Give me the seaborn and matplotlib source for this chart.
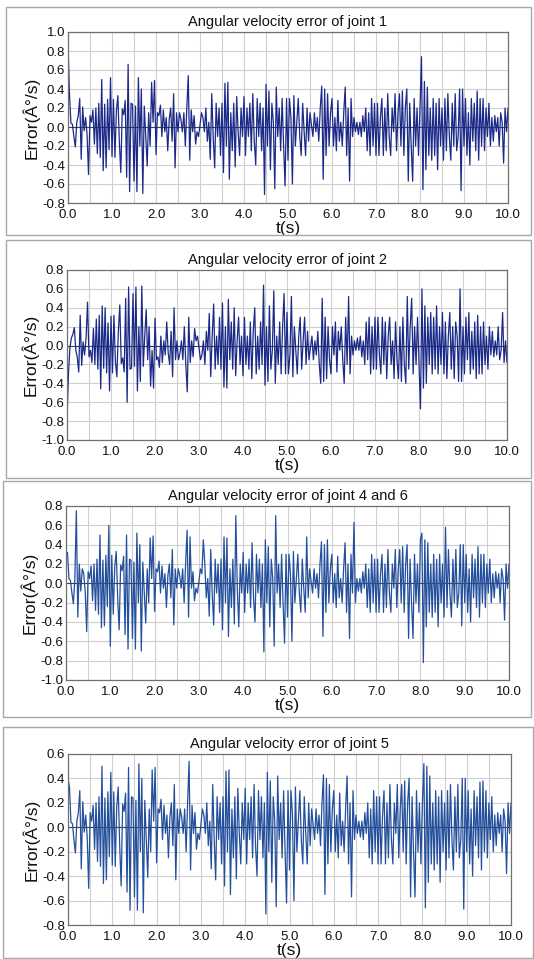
import numpy as np
import matplotlib
matplotlib.use("Agg")
import matplotlib.pyplot as plt
import seaborn as sns
from matplotlib.ticker import MultipleLocator, FormatStrFormatter


TITLES = [
    "Angular velocity error of joint 1",
    "Angular velocity error of joint 2",
    "Angular velocity error of joint 4 and 6",
    "Angular velocity error of joint 5",
]
Y_LABEL = "Error(Â°/s)"
X_LABEL = "t(s)"
Y_LIMITS = [(-0.8, 1.0), (-1.0, 0.8), (-1.0, 0.8), (-0.8, 0.6)]

# error samples, one value every 1/30 s from 0 to 10 s
joint1 = [
    0.88, 0.35, 0.04, 0.03, -0.10, -0.21, 0.05, 0.12, 0.30, -0.34,
    0.21, -0.04, 0.10, -0.08, -0.50, 0.12, 0.05, 0.18, -0.18, 0.20,
    -0.28, 0.25, -0.32, 0.50, -0.46, 0.24, -0.43, 0.29, -0.24, 0.52,
    -0.31, 0.29, -0.32, 0.17, 0.33, -0.15, -0.48, 0.19, 0.13, 0.28,
    -0.53, 0.66, -0.68, 0.25, 0.24, -0.57, 0.22, -0.68, 0.52, -0.20,
    0.40, -0.70, 0.22, -0.10, -0.41, 0.15, -0.20, 0.47, 0.05, 0.49,
    -0.29, 0.15, 0.12, 0.23, -0.10, 0.18, -0.05, 0.10, -0.25, 0.08,
    0.20, -0.15, 0.35, -0.43, 0.15, -0.05, 0.15, 0.08, -0.05, 0.15,
    -0.20, 0.20, 0.54, -0.35, 0.18, -0.05, 0.12, -0.18, -0.05, -0.10,
    0.02, 0.15, 0.10, -0.05, 0.20, -0.15, 0.05, -0.34, 0.35, -0.10,
    -0.43, 0.25, -0.10, 0.20, -0.30, 0.25, -0.48, 0.46, -0.20, 0.47,
    -0.55, 0.15, -0.25, 0.25, -0.42, 0.32, -0.05, -0.30, 0.20, -0.10,
    0.32, -0.30, 0.20, -0.10, 0.25, -0.25, 0.35, -0.15, -0.40, 0.30,
    -0.10, 0.25, -0.25, 0.20, -0.71, 0.45, -0.20, 0.38, -0.45, 0.25,
    0.05, -0.65, 0.42, -0.10, 0.20, -0.25, 0.30, -0.20, -0.62, 0.30,
    -0.35, 0.30, 0.10, -0.60, 0.33, -0.20, 0.05, 0.30, -0.10, -0.30,
    0.25, -0.05, -0.30, 0.20, -0.15, 0.15, 0.02, -0.10, 0.15, -0.05,
    0.10, -0.15, 0.20, 0.43, -0.55, 0.40, -0.30, 0.35, -0.20, 0.15,
    0.30, -0.20, 0.10, -0.25, 0.28, -0.15, 0.05, -0.20, 0.15, 0.42,
    -0.30, 0.20, -0.57, 0.30, -0.10, 0.10, -0.05, 0.05, -0.08, 0.05,
    -0.10, 0.12, -0.05, 0.20, -0.25, 0.15, -0.30, 0.30, -0.20, 0.25,
    -0.30, 0.25, -0.30, 0.10, 0.30, -0.30, 0.20, -0.25, 0.35, -0.10,
    -0.30, 0.20, -0.05, 0.35, -0.25, 0.15, 0.35, -0.20, 0.38, -0.30,
    0.20, 0.40, -0.57, 0.25, -0.20, -0.57, 0.30, -0.20, 0.20, -0.30,
    0.20, 0.74, -0.66, 0.48, -0.45, 0.42, -0.30, 0.20, -0.35, 0.30,
    -0.30, 0.25, -0.45, 0.30, -0.20, 0.20, -0.35, 0.30, -0.25, 0.35,
    -0.10, -0.35, 0.25, -0.20, 0.35, -0.25, -0.10, 0.40, -0.67, 0.40,
    -0.20, 0.30, -0.30, 0.15, -0.40, 0.30, -0.15, 0.25, -0.25, 0.38,
    -0.35, 0.30, -0.20, 0.30, -0.25, 0.20, -0.10, 0.25, -0.20, 0.10,
    -0.15, 0.12, -0.05, 0.10, -0.20, 0.15, 0.05, -0.38, 0.20, -0.05, 0.20,
]

joint2 = [
    -0.78, -0.30, -0.02, 0.08, 0.12, 0.19, -0.05, -0.12, -0.28, 0.32,
    -0.21, 0.04, -0.10, 0.08, 0.46, -0.12, -0.05, -0.18, 0.18, -0.20,
    0.28, -0.25, 0.32, -0.46, 0.42, -0.24, 0.40, -0.29, 0.24, -0.48,
    0.31, -0.29, 0.32, -0.17, -0.33, 0.15, 0.43, -0.19, -0.13, -0.28,
    0.50, -0.60, 0.62, -0.25, -0.24, 0.55, -0.22, 0.62, -0.48, 0.20,
    -0.38, 0.63, -0.22, 0.10, 0.38, -0.15, 0.20, -0.43, -0.05, -0.45,
    0.29, -0.15, -0.12, -0.23, 0.10, -0.18, 0.05, -0.10, 0.25, -0.08,
    -0.20, 0.15, -0.33, 0.40, -0.15, 0.05, -0.15, -0.08, 0.05, -0.15,
    0.20, -0.20, -0.49, 0.30, -0.18, 0.05, -0.12, 0.18, 0.05, 0.10,
    -0.02, -0.15, -0.10, 0.05, -0.20, 0.15, -0.05, 0.34, -0.33, 0.10,
    0.44, -0.25, 0.10, -0.20, 0.30, -0.25, 0.45, -0.44, 0.20, -0.45,
    0.49, -0.15, 0.25, -0.25, 0.40, -0.32, 0.05, 0.30, -0.20, 0.10,
    -0.32, 0.30, -0.20, 0.10, -0.25, 0.25, -0.35, 0.15, 0.40, -0.30,
    0.10, -0.25, 0.25, -0.20, 0.64, -0.42, 0.20, -0.38, 0.42, -0.25,
    -0.05, 0.58, -0.40, 0.10, -0.20, 0.25, -0.30, 0.20, 0.55, -0.30,
    0.35, -0.30, -0.10, 0.52, -0.33, 0.20, -0.05, -0.30, 0.10, 0.30,
    -0.25, 0.05, 0.30, -0.20, 0.15, -0.15, -0.02, 0.10, -0.15, 0.05,
    -0.10, 0.15, -0.20, -0.40, 0.50, -0.38, 0.30, -0.35, 0.20, -0.15,
    -0.30, 0.20, -0.10, 0.25, -0.28, 0.15, -0.05, 0.20, -0.15, -0.40,
    0.30, -0.20, 0.52, -0.30, 0.10, -0.10, 0.05, -0.05, 0.08, -0.05,
    0.10, -0.12, 0.05, -0.20, 0.25, -0.15, 0.30, -0.30, 0.20, -0.25,
    0.30, -0.25, 0.30, -0.10, -0.30, 0.30, -0.20, 0.25, -0.35, 0.10,
    0.30, -0.20, 0.05, -0.35, 0.25, -0.15, -0.35, 0.20, -0.38, 0.30,
    -0.20, -0.40, 0.52, -0.25, 0.20, 0.50, -0.30, 0.20, -0.20, 0.30,
    -0.20, -0.67, 0.60, -0.45, 0.42, -0.40, 0.30, -0.20, 0.35, -0.30,
    0.30, -0.25, 0.42, -0.30, 0.20, -0.20, 0.35, -0.30, 0.25, -0.35,
    0.10, 0.35, -0.25, 0.20, -0.35, 0.25, 0.10, -0.38, 0.60, -0.38,
    0.20, -0.30, 0.30, -0.15, 0.35, -0.30, 0.15, -0.25, 0.25, -0.35,
    0.32, -0.30, 0.20, -0.30, 0.25, -0.20, 0.10, -0.25, 0.20, -0.10,
    0.15, -0.12, 0.05, -0.10, 0.20, -0.15, -0.05, 0.35, -0.18, 0.05, -0.18,
]

joint46 = [
    0.27, 0.32, 0.05, 0.03, -0.10, -0.21, 0.05, 0.75, -0.35, 0.20,
    -0.08, 0.15, 0.10, -0.08, -0.50, 0.12, 0.05, 0.18, -0.18, 0.20,
    -0.28, 0.25, -0.32, 0.50, -0.46, 0.24, -0.44, 0.29, -0.24, 0.60,
    -0.65, 0.29, -0.32, 0.17, 0.33, -0.15, -0.48, 0.19, 0.13, 0.28,
    -0.53, 0.50, -0.68, 0.25, 0.24, -0.57, 0.22, -0.68, 0.52, -0.20,
    0.40, -0.70, 0.22, -0.10, -0.41, 0.15, -0.20, 0.47, 0.05, 0.49,
    -0.29, 0.15, 0.12, 0.23, -0.10, 0.18, -0.05, 0.10, -0.25, 0.08,
    0.20, -0.15, 0.35, -0.43, 0.15, -0.05, 0.15, 0.08, -0.05, 0.15,
    -0.20, 0.20, 0.55, -0.35, 0.48, -0.05, 0.12, -0.18, -0.05, -0.10,
    0.02, 0.15, 0.10, 0.45, 0.20, -0.15, 0.05, -0.34, 0.35, -0.10,
    -0.43, 0.25, -0.10, 0.20, -0.30, 0.25, -0.48, 0.48, -0.20, 0.47,
    -0.55, 0.15, -0.25, 0.25, -0.42, 0.70, -0.05, -0.45, 0.20, -0.10,
    0.32, -0.30, 0.20, -0.10, 0.25, -0.25, 0.42, -0.15, -0.40, 0.30,
    -0.10, 0.25, -0.25, 0.20, -0.71, 0.45, -0.20, 0.38, -0.45, 0.25,
    0.05, -0.65, 0.70, -0.10, 0.20, -0.25, 0.30, -0.20, -0.62, 0.30,
    -0.35, 0.30, 0.10, -0.60, 0.33, -0.20, 0.05, 0.30, -0.10, -0.30,
    0.25, -0.05, -0.30, 0.48, -0.15, 0.15, 0.02, -0.10, 0.15, -0.05,
    0.10, -0.15, 0.20, 0.43, -0.55, 0.40, -0.30, 0.45, -0.20, 0.15,
    0.30, -0.20, 0.10, -0.25, 0.28, -0.15, 0.05, -0.20, 0.15, 0.42,
    -0.30, 0.20, -0.57, 0.30, -0.10, 0.63, -0.20, 0.05, -0.08, 0.05,
    -0.10, 0.12, -0.05, 0.20, -0.25, 0.15, -0.30, 0.30, -0.20, 0.25,
    -0.30, 0.25, -0.30, 0.10, 0.30, -0.30, 0.20, -0.25, 0.35, -0.10,
    -0.30, 0.20, -0.05, 0.35, -0.25, 0.15, 0.35, -0.20, 0.38, -0.30,
    0.20, 0.40, -0.57, 0.25, -0.20, -0.57, 0.30, -0.20, 0.20, -0.30,
    0.45, 0.52, -0.82, 0.45, -0.45, 0.42, -0.30, 0.20, -0.35, 0.30,
    -0.30, 0.25, -0.45, 0.30, -0.20, 0.20, -0.35, 0.58, -0.25, 0.35,
    -0.10, -0.35, 0.25, -0.20, 0.35, -0.25, -0.10, 0.40, -0.44, 0.40,
    -0.20, 0.30, -0.30, 0.15, -0.40, 0.30, -0.15, 0.25, -0.25, 0.38,
    -0.35, 0.30, -0.20, 0.30, -0.25, 0.20, -0.10, 0.25, -0.20, 0.10,
    -0.15, 0.12, -0.05, 0.10, -0.20, 0.15, 0.05, -0.38, 0.20, -0.05, 0.20,
]

joint5 = [
    0.40, 0.33, 0.04, 0.03, -0.10, -0.21, 0.05, 0.12, 0.30, -0.34,
    0.21, -0.04, 0.10, -0.08, -0.50, 0.12, 0.05, 0.18, -0.18, 0.20,
    -0.28, 0.25, -0.32, 0.50, -0.46, 0.24, -0.43, 0.29, -0.24, 0.45,
    -0.31, 0.29, -0.32, 0.17, 0.33, -0.15, -0.48, 0.19, 0.13, 0.28,
    -0.53, 0.49, -0.68, 0.25, 0.24, -0.57, 0.22, -0.68, 0.52, -0.20,
    0.40, -0.70, 0.22, -0.10, -0.41, 0.15, -0.20, 0.47, 0.05, 0.49,
    -0.29, 0.15, 0.12, 0.23, -0.10, 0.18, -0.05, 0.10, -0.25, 0.08,
    0.20, -0.15, 0.35, -0.43, 0.15, -0.05, 0.15, 0.08, -0.05, 0.15,
    -0.20, 0.20, 0.54, -0.35, 0.18, -0.05, 0.12, -0.18, -0.05, -0.10,
    0.02, 0.15, 0.10, -0.05, 0.20, -0.15, 0.05, -0.34, 0.35, -0.10,
    -0.43, 0.25, -0.10, 0.20, -0.30, 0.25, -0.48, 0.46, -0.20, 0.47,
    -0.55, 0.15, -0.25, 0.25, -0.42, 0.32, -0.05, -0.30, 0.20, -0.10,
    0.32, -0.30, 0.20, -0.10, 0.25, -0.25, 0.35, -0.15, -0.40, 0.30,
    -0.10, 0.25, -0.25, 0.20, -0.71, 0.45, -0.20, 0.38, -0.45, 0.25,
    0.05, -0.65, 0.42, -0.10, 0.20, -0.25, 0.30, -0.20, -0.62, 0.30,
    -0.35, 0.30, 0.10, -0.60, 0.33, -0.20, 0.05, 0.30, -0.10, -0.30,
    0.25, -0.05, -0.30, 0.20, -0.15, 0.15, 0.02, -0.10, 0.15, -0.05,
    0.10, -0.15, 0.20, 0.43, -0.55, 0.40, -0.30, 0.35, -0.20, 0.15,
    0.30, -0.20, 0.10, -0.25, 0.28, -0.15, 0.05, -0.20, 0.15, 0.42,
    -0.30, 0.20, -0.57, 0.30, -0.10, 0.10, -0.05, 0.05, -0.08, 0.05,
    -0.10, 0.12, -0.05, 0.20, -0.25, 0.15, -0.30, 0.30, -0.20, 0.25,
    -0.30, 0.25, -0.30, 0.10, 0.30, -0.30, 0.20, -0.25, 0.35, -0.10,
    -0.30, 0.20, -0.05, 0.35, -0.25, 0.15, 0.35, -0.20, 0.38, -0.30,
    0.20, 0.40, -0.57, 0.25, -0.20, -0.57, 0.30, -0.20, 0.20, -0.30,
    0.20, 0.52, -0.66, 0.50, -0.45, 0.42, -0.30, 0.20, -0.35, 0.30,
    -0.30, 0.25, -0.45, 0.30, -0.20, 0.20, -0.35, 0.30, -0.25, 0.35,
    -0.10, -0.35, 0.25, -0.20, 0.35, -0.25, -0.10, 0.40, -0.67, 0.40,
    -0.20, 0.30, -0.30, 0.15, -0.40, 0.30, -0.15, 0.25, -0.25, 0.37,
    -0.35, 0.38, -0.20, 0.30, -0.25, 0.20, -0.10, 0.25, -0.20, 0.10,
    -0.15, 0.12, -0.05, 0.10, -0.20, 0.15, 0.05, -0.38, 0.20, -0.05, 0.20,
]

SERIES = [joint1, joint2, joint46, joint5]
LINE_COLORS = ["#1b2a88", "#1b2a88", "#234f9c", "#234f9c"]

W, H = 534, 959
# plot areas (px): left, right, top, bottom
AX_PX = [(68, 508, 32, 203), (67, 507, 270, 440), (66, 509, 506, 680), (68, 511, 754, 925)]
# grey frames around each chart (px)
FRAME_PX = [(6, 531, 7, 235), (6, 531, 240, 478), (3, 531, 481, 717), (3, 533, 727, 958)]


sns.set_style("white")
plt.rcParams["font.family"] = ["Liberation Sans", "DejaVu Sans"]
plt.rcParams["axes.unicode_minus"] = False

fig = plt.figure(figsize=(W / 100, H / 100), dpi=100)

for (x0, x1, y0, y1) in FRAME_PX:
    fig.add_artist(plt.Rectangle((x0 / W, 1 - y1 / H), (x1 - x0) / W, (y1 - y0) / H,
                                 transform=fig.transFigure, fill=False,
                                 edgecolor="#a8a8a8", linewidth=1.0))

for k in range(4):
    x0, x1, y0, y1 = AX_PX[k]
    ax = fig.add_axes([x0 / W, 1 - y1 / H, (x1 - x0) / W, (y1 - y0) / H])
    vals = SERIES[k]
    t = np.linspace(0, 10, len(vals))
    sns.lineplot(x=t, y=vals, ax=ax, color=LINE_COLORS[k], linewidth=0.9)
    ax.axhline(0, color="#404040", linewidth=0.8, zorder=1)

    ax.set_xlim(0, 10)
    ax.set_ylim(*Y_LIMITS[k])
    ax.xaxis.set_major_locator(MultipleLocator(1.0))
    ax.xaxis.set_minor_locator(MultipleLocator(0.5))
    ax.yaxis.set_major_locator(MultipleLocator(0.2))
    ax.xaxis.set_major_formatter(FormatStrFormatter("%.1f"))
    ax.yaxis.set_major_formatter(FormatStrFormatter("%.1f"))
    ax.grid(True, which="both", axis="x", color="#cfcfcf", linewidth=0.8)
    ax.grid(True, which="major", axis="y", color="#cfcfcf", linewidth=0.8)
    ax.set_axisbelow(True)
    ax.tick_params(axis="both", which="both", direction="out", length=3,
                   width=0.6, color="#909090", labelsize=9.5, pad=1,
                   labelcolor="#111111")
    ax.tick_params(axis="y", length=0, pad=2)
    for s in ax.spines.values():
        s.set_color("#707070")
        s.set_linewidth(0.9)

    ax.set_title(TITLES[k], fontsize=10.5, pad=4, color="#111111")
    ax.set_xlabel(X_LABEL, fontsize=12.5, labelpad=0, color="#111111")
    ax.set_ylabel(Y_LABEL, fontsize=12.5, labelpad=2, color="#111111")

fig.savefig("out.png", dpi=100)
